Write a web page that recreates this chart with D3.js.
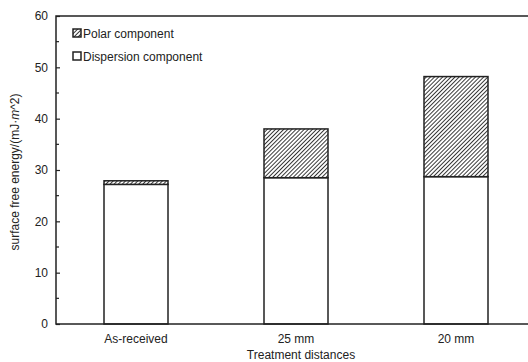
<!DOCTYPE html>
<html>
<head>
<meta charset="utf-8">
<script src="https://cdn.jsdelivr.net/npm/d3@7"></script>
<style>
  body { margin: 0; background: #fff; }
  svg { font-family: "Liberation Sans", Arial, sans-serif; }
</style>
</head>
<body>
<div id="wrapper"></div>
<script>
const categories = ["As-received", "25 mm", "20 mm"]
const dispersion = [27.2, 28.5, 28.7]
const polar = [0.7, 9.5, 19.5]
const yTicks = [0, 10, 20, 30, 40, 50, 60]
const yMinorTicks = [5, 15, 25, 35, 45, 55]

const dimensions = {
  width: 528,
  height: 362,
  margins: { top: 16, right: -8, bottom: 38, left: 56 },
}
dimensions.boundedWidth = dimensions.width - dimensions.margins.left - dimensions.margins.right
dimensions.boundedHeight = dimensions.height - dimensions.margins.top - dimensions.margins.bottom

const svg = d3.select("#wrapper").append("svg")
  .attr("width", dimensions.width)
  .attr("height", dimensions.height)

// diagonal hatch for the polar part
const defs = svg.append("defs")
const pattern = defs.append("pattern")
  .attr("id", "hatch")
  .attr("patternUnits", "userSpaceOnUse")
  .attr("width", 2.9)
  .attr("height", 2.9)
  .attr("patternTransform", "rotate(45)")
pattern.append("rect").attr("width", 2.9).attr("height", 2.9).attr("fill", "#fff")
pattern.append("line")
  .attr("x1", 0).attr("y1", 0).attr("x2", 0).attr("y2", 2.9)
  .attr("stroke", "#1a1a1a").attr("stroke-width", 1.7)

const bounds = svg.append("g")
  .attr("transform", `translate(${dimensions.margins.left},${dimensions.margins.top})`)

const xScale = d3.scaleBand()
  .domain(categories)
  .range([0, dimensions.boundedWidth])
  .paddingInner(0.6)
  .paddingOuter(0.3)

const yScale = d3.scaleLinear()
  .domain([0, 60])
  .range([dimensions.boundedHeight, 0])

// bars
const bars = bounds.selectAll(".bar").data(categories).join("g").attr("class", "bar")
bars.append("rect")
  .attr("x", d => xScale(d))
  .attr("width", xScale.bandwidth())
  .attr("y", (d, i) => yScale(dispersion[i]))
  .attr("height", (d, i) => yScale(0) - yScale(dispersion[i]))
  .attr("fill", "#fff")
  .attr("stroke", "#222")
  .attr("stroke-width", 1.5)
bars.append("rect")
  .attr("x", d => xScale(d))
  .attr("width", xScale.bandwidth())
  .attr("y", (d, i) => yScale(dispersion[i] + polar[i]))
  .attr("height", (d, i) => yScale(dispersion[i]) - yScale(dispersion[i] + polar[i]))
  .attr("fill", "url(#hatch)")
  .attr("stroke", "#222")
  .attr("stroke-width", 1.5)

// frame
bounds.append("rect")
  .attr("width", dimensions.boundedWidth)
  .attr("height", dimensions.boundedHeight)
  .attr("fill", "none")
  .attr("stroke", "#222")
  .attr("stroke-width", 1.5)

// y axis, ticks point inward
const yAxis = bounds.append("g")
  .call(d3.axisLeft(yScale).tickValues(yTicks).tickSize(-4).tickPadding(8))
yAxis.select(".domain").remove()
yAxis.selectAll("text").attr("font-size", 12).attr("fill", "#222")
  .attr("font-family", "Liberation Sans, Arial, sans-serif")
yAxis.selectAll("line").attr("stroke", "#222").attr("stroke-width", 1.2)

bounds.append("g")
  .selectAll("line").data(yMinorTicks).join("line")
  .attr("x1", 0).attr("x2", 3)
  .attr("y1", d => yScale(d)).attr("y2", d => yScale(d))
  .attr("stroke", "#222").attr("stroke-width", 1.2)

// x axis
const xAxis = bounds.append("g")
  .attr("transform", `translate(0,${dimensions.boundedHeight})`)
  .call(d3.axisBottom(xScale).tickSize(0).tickPadding(10))
xAxis.select(".domain").remove()
xAxis.selectAll("text").attr("font-size", 12).attr("fill", "#222")
  .attr("font-family", "Liberation Sans, Arial, sans-serif")

// axis labels
svg.append("text")
  .attr("x", 301)
  .attr("y", 359)
  .attr("text-anchor", "middle")
  .attr("font-size", 12)
  .attr("fill", "#222")
  .text("Treatment distances")

const yLabel = svg.append("text")
  .attr("transform", "translate(19,172) rotate(-90)")
  .attr("text-anchor", "middle")
  .attr("font-size", 12)
  .attr("fill", "#222")
yLabel.append("tspan").text("surface free energy/(mJ\u00b7")
yLabel.append("tspan").attr("font-style", "italic").text("m")
yLabel.append("tspan").text("^2)")

// legend
const legendItems = [
  { label: "Polar component", fill: "url(#hatch)" },
  { label: "Dispersion component", fill: "#fff" },
]
const legend = svg.append("g").attr("transform", "translate(73,29)")
const legendRows = legend.selectAll("g").data(legendItems).join("g")
  .attr("transform", (d, i) => `translate(0,${i * 23})`)
legendRows.append("rect")
  .attr("width", 8).attr("height", 8)
  .attr("fill", d => d.fill)
  .attr("stroke", "#222").attr("stroke-width", 1.5)
legendRows.append("text")
  .attr("x", 10).attr("y", 8.5)
  .attr("font-size", 12)
  .attr("fill", "#222")
  .text(d => d.label)
</script>
</body>
</html>
